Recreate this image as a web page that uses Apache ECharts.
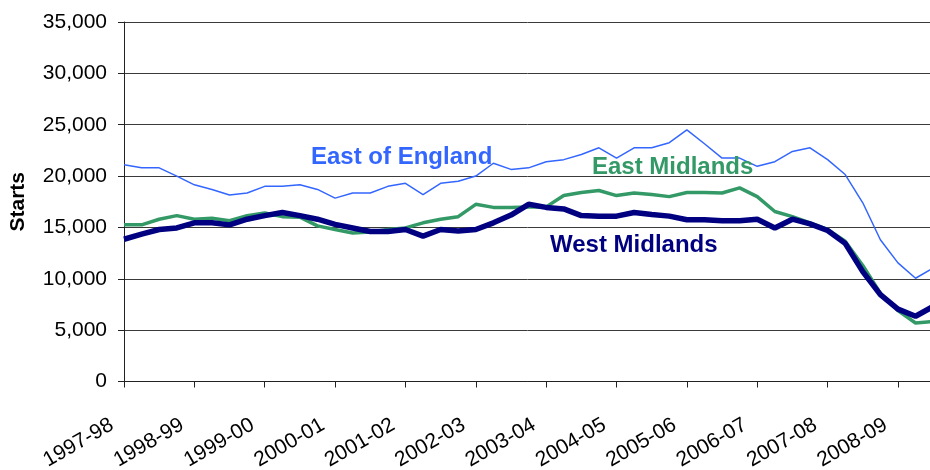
<!DOCTYPE html>
<html>
<head>
<meta charset="utf-8">
<title>Starts by region</title>
<script src="https://cdn.jsdelivr.net/npm/echarts@6/dist/echarts.min.js"></script>
<style>
  html, body { margin: 0; padding: 0; background: #fff; }
  #chart { width: 930px; height: 470px; }
</style>
</head>
<body>
<div id="chart"></div>
<script>
// financial years, one label per year (quarters in between)
var years = ['1997-98', '1998-99', '1999-00', '2000-01', '2001-02', '2002-03',
  '2003-04', '2004-05', '2005-06', '2006-07', '2007-08', '2008-09'];
var quarters = ['Q1', 'Q2', 'Q3', 'Q4'];

// quarterly starts (last point is cut off by the edge)
var eastOfEngland = [21100, 20800, 20800, 20000, 19150, 18700, 18150, 18350,
  19000, 19000, 19150, 18700, 17850, 18350, 18350, 19000, 19300, 18200, 19300,
  19500, 20000, 21250, 20650, 20800, 21400, 21600, 22100, 22750, 21750, 22750,
  22750, 23250, 24500, 23150, 21750, 21750, 20950, 21400, 22400, 22750, 21600,
  20150, 17400, 13800, 11550, 10050, 11050];
var eastMidlands = [15250, 15250, 15800, 16150, 15800, 15900, 15650, 16150,
  16400, 16050, 16000, 15150, 14800, 14450, 14550, 14800, 14950, 15450, 15800,
  16050, 17250, 16950, 16950, 17000, 17000, 18100, 18400, 18600, 18100, 18350,
  18200, 18000, 18400, 18400, 18350, 18850, 18000, 16550, 16050, 15450, 14800,
  13650, 11300, 8600, 6900, 5700, 5850];
var westMidlands = [13850, 14350, 14800, 14950, 15450, 15450, 15250, 15800,
  16150, 16450, 16150, 15800, 15300, 14950, 14600, 14600, 14800, 14150, 14800,
  14650, 14800, 15450, 16200, 17250, 16950, 16800, 16150, 16100, 16100, 16450,
  16250, 16100, 15750, 15750, 15650, 15650, 15800, 14950, 15800, 15350, 14700,
  13450, 10700, 8450, 7050, 6350, 7300];

var categories = [];
years.forEach(function (y) {
  quarters.forEach(function (q) { categories.push(y + ' ' + q); });
});
categories = categories.slice(0, eastOfEngland.length);

var chart = echarts.init(document.getElementById('chart'));
var font = 'Liberation Sans, Arial, sans-serif';

var option = {
  animation: false,
  backgroundColor: '#fff',
  grid: {
    left: 124,
    top: 22,
    height: 359.5,
    // the plot runs a few px past the right edge, like the original crop
    width: 17.59 * (eastOfEngland.length - 1),
    containLabel: false,
    outerBoundsMode: 'none',
  },
  xAxis: {
    type: 'category',
    boundaryGap: false,
    data: categories,
    axisLine: { show: true, lineStyle: { color: '#222', width: 1 } },
    axisTick: { show: true, interval: 3, length: 6, lineStyle: { color: '#222' } },
    axisLabel: {
      interval: 3,
      rotate: 30,
      margin: 35,
      padding: [0, 14, 0, 0],
      color: '#000',
      fontFamily: font,
      fontSize: 21,
      formatter: function (v) { return v.split(' ')[0]; },
    },
    splitLine: { show: false },
  },
  yAxis: {
    type: 'value',
    min: 0,
    max: 35000,
    interval: 5000,
    name: 'Starts',
    nameLocation: 'middle',
    nameGap: 95,
    nameRotate: 90,
    nameTextStyle: { color: '#000', fontFamily: font, fontSize: 21, fontWeight: 'bold' },
    axisLine: { show: true, lineStyle: { color: '#222', width: 1 } },
    axisTick: { show: true, length: 6, lineStyle: { color: '#222' } },
    axisLabel: {
      margin: 17,
      color: '#000',
      fontFamily: font,
      fontSize: 21,
      formatter: function (v) { return v.toLocaleString('en-GB'); },
    },
    splitLine: { show: true, lineStyle: { color: '#3a3a3a', width: 1 } },
  },
  series: [
    {
      name: 'East of England',
      type: 'line',
      data: eastOfEngland,
      symbol: 'none',
      lineStyle: { color: '#3366ff', width: 1.5 },
      z: 2,
    },
    {
      name: 'East Midlands',
      type: 'line',
      data: eastMidlands,
      symbol: 'none',
      lineStyle: { color: '#339966', width: 3.5 },
      z: 3,
    },
    {
      name: 'West Midlands',
      type: 'line',
      data: westMidlands,
      symbol: 'none',
      lineStyle: { color: '#000080', width: 5.5 },
      z: 4,
    },
  ],
  graphic: [
    {
      type: 'text', x: 311, y: 157, z: 10,
      style: { text: 'East of England', fill: '#3366ff', font: 'bold 24px ' + font, verticalAlign: 'middle' },
    },
    {
      type: 'text', x: 592, y: 167, z: 10,
      style: { text: 'East Midlands', fill: '#339966', font: 'bold 24px ' + font, verticalAlign: 'middle' },
    },
    {
      type: 'text', x: 550, y: 245, z: 10,
      style: { text: 'West Midlands', fill: '#000080', font: 'bold 24px ' + font, verticalAlign: 'middle' },
    },
  ],
};

chart.setOption(option);
</script>
</body>
</html>
